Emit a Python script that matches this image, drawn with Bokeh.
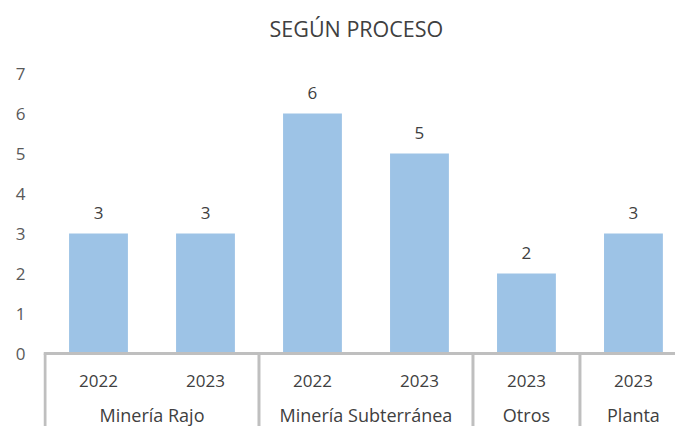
from bokeh.plotting import figure
from bokeh.models import Range1d, FixedTicker
from bokeh.core.properties import value
from bokeh.embed import file_html
from bokeh.resources import INLINE

# ---- data ----
title_text = "SEGÚN PROCESO"
groups = ["Minería Rajo", "Minería Subterránea", "Otros", "Planta"]
group_sizes = [2, 2, 1, 1]
years = ["2022", "2023", "2022", "2023", "2023", "2023"]
counts = [3, 3, 6, 5, 2, 3]
y_ticks = [0, 1, 2, 3, 4, 5, 6, 7]

# ---- derived positions ----
centers = [i + 0.5 for i in range(len(counts))]
bounds = [0]
for s in group_sizes:
    bounds.append(bounds[-1] + s)
group_centers = [(bounds[i] + bounds[i + 1]) / 2 for i in range(len(groups))]

FONT = value("Open Sans")
TXT = "#404040"
GRID = "#bfbfbf"
BAR = "#9dc3e6"

x0, x1 = -0.014, 5.893
y0, y1 = -1.825, 8.825

p = figure(width=675, height=426,
           x_range=Range1d(x0, x1), y_range=Range1d(y0, y1),
           output_backend="svg", toolbar_location=None,
           x_axis_location=None,
           min_border_left=43, min_border_right=0,
           min_border_top=0, min_border_bottom=0)
p.grid.visible = False
p.outline_line_color = None
p.background_fill_color = "white"

ax = p.yaxis[0]
ax.ticker = FixedTicker(ticks=y_ticks)
ax.axis_line_color = None
ax.major_tick_line_color = None
ax.minor_tick_line_color = None
ax.major_label_standoff = 12
ax.major_label_text_font = "Open Sans"
ax.major_label_text_font_size = "17px"
ax.major_label_text_color = "#595959"

# bars
p.vbar(x=centers, top=counts, bottom=0, width=0.55, fill_color=BAR, line_color=None)

# baseline and group separators
p.segment(x0=[x0], y0=[0], x1=[bounds[-1]], y1=[0], line_color=GRID, line_width=3)
p.segment(x0=bounds, y0=[0] * len(bounds), x1=bounds, y1=[y0] * len(bounds),
          line_color=GRID, line_width=3)

# data labels
p.text(x=centers, y=counts, text=[str(c) for c in counts], y_offset=-21,
       text_align="center", text_baseline="middle", text_font=FONT,
       text_font_size="17px", text_color=TXT)

# category labels
p.text(x=centers, y=[-0.675] * len(centers), text=years,
       text_align="center", text_baseline="middle", text_font=FONT,
       text_font_size="17px", text_color=TXT)
p.text(x=group_centers, y=[-1.53] * len(groups), text=groups,
       text_align="center", text_baseline="middle", text_font=FONT,
       text_font_size="18px", text_color=TXT)

# title
p.text(x=[2.911], y=[8.125], text=[title_text], text_align="center",
       text_baseline="middle", text_font=FONT, text_font_size="21.5px",
       text_color=TXT)

open("out.html", "w").write(file_html(p, INLINE))
